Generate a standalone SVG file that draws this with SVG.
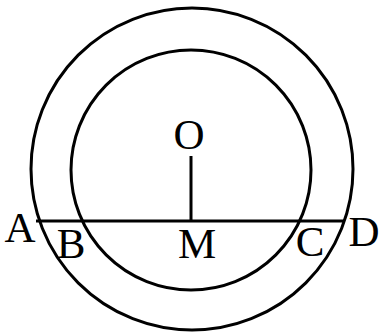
<svg xmlns="http://www.w3.org/2000/svg" width="380" height="336" viewBox="0 0 380 336">
<style>
.s{fill:none;stroke:#000;stroke-width:3}
.t{font-family:"Liberation Serif","Times New Roman",serif;font-size:43px;fill:#000;text-anchor:middle}
</style>
<rect width="380" height="336" fill="#fff"/>
<g id="outer-circle"><circle class="s" cx="192" cy="169" r="161"/></g>
<g id="inner-circle"><circle class="s" cx="191" cy="170" r="120"/></g>
<g id="connectors">
<line class="s" x1="36" y1="221" x2="344" y2="221"/>
<line class="s" x1="191" y1="156" x2="191" y2="221"/>
</g>
<g id="labels">
<text class="t" x="189" y="149">O</text>
<text class="t" x="20" y="242">A</text>
<text class="t" x="71" y="258">B</text>
<text class="t" x="197" y="258">M</text>
<text class="t" x="310" y="256">C</text>
<text class="t" x="364" y="246">D</text>
</g>
</svg>
